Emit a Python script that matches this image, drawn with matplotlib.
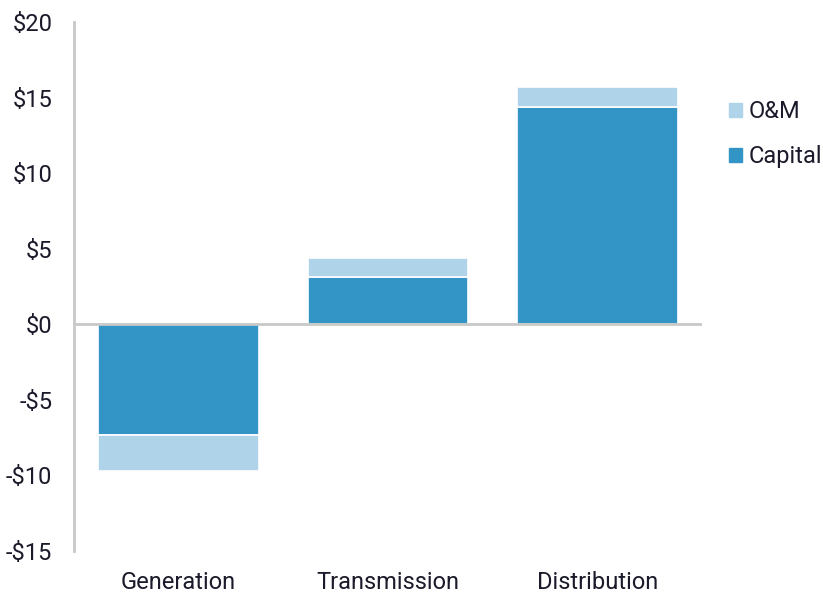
import numpy as np
import matplotlib.pyplot as plt
from matplotlib.patches import Patch

plt.rcParams['font.family'] = ['Roboto', 'DejaVu Sans']

categories = ['Generation', 'Transmission', 'Distribution']
capital = [-7.3, 3.1, 14.4]
om = [-2.4, 1.3, 1.3]
yticks = [-15, -10, -5, 0, 5, 10, 15, 20]

capital_color = '#3394c6'
om_color = '#afd4e9'
axis_gray = '#c8c8c8'
text_color = '#1a1a2a'

fig = plt.figure(figsize=(8.23, 5.93), dpi=100)
ax = fig.add_axes([74 / 823, 42 / 593, 628 / 823, 529 / 593])

x = np.arange(len(categories))
width = 0.766
ax.bar(x, capital, width, color=capital_color, edgecolor='white', linewidth=1.2, zorder=2)
ax.bar(x, om, width, bottom=capital, color=om_color, edgecolor='white', linewidth=1.2, zorder=2)

ax.axhline(0, color=axis_gray, linewidth=2, zorder=3)

ax.set_xlim(-0.5, 2.5)
ax.set_ylim(-15, 20)
ax.set_yticks(yticks)
ax.set_yticklabels([f'-${abs(v)}' if v < 0 else f'${v}' for v in yticks])
ax.set_xticks(x)
ax.set_xticklabels(categories)
ax.tick_params(axis='both', length=0, labelsize=17, colors=text_color)
ax.tick_params(axis='y', pad=15.5)
ax.tick_params(axis='x', pad=14.5)

for side in ['top', 'right', 'bottom']:
    ax.spines[side].set_visible(False)
ax.spines['left'].set_color(axis_gray)
ax.spines['left'].set_linewidth(2)

handles = [Patch(color=om_color, label='O&M'), Patch(color=capital_color, label='Capital')]
fig.legend(handles=handles, loc='upper left', bbox_to_anchor=(729 / 823, 1 - 100 / 593),
           frameon=False, fontsize=17, handlelength=0.55, handleheight=0.55,
           handletextpad=0.3, labelspacing=0.95, borderaxespad=0, borderpad=0,
           labelcolor=text_color)

fig.savefig('out.png', dpi=100)
